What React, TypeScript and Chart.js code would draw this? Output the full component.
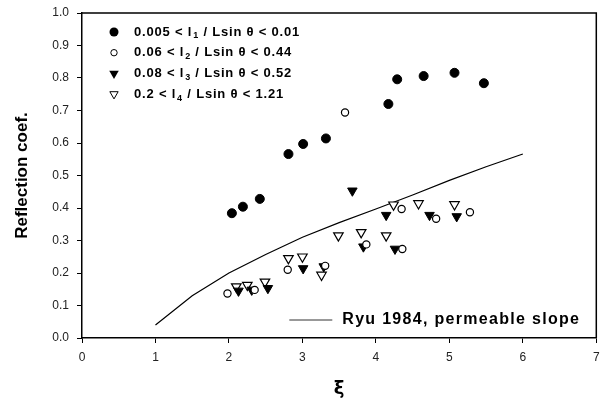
import React, { useEffect, useRef } from 'react';
import { Chart, registerables } from 'chart.js';

Chart.register(...registerables);

// ---- data ----
const xTickValues = [0, 1, 2, 3, 4, 5, 6, 7];
const yTickValues = [0, 0.1, 0.2, 0.3, 0.4, 0.5, 0.6, 0.7, 0.8, 0.9, 1.0];

const s1X = [2.04, 2.19, 2.42, 2.81, 3.01, 3.32, 4.17, 4.29, 4.65, 5.07, 5.47];
const s1Y = [0.384, 0.404, 0.428, 0.566, 0.597, 0.614, 0.72, 0.796, 0.806, 0.816, 0.784];

const s2X = [1.98, 2.35, 2.8, 3.31, 3.58, 3.87, 4.36, 4.35, 4.82, 5.28];
const s2Y = [0.137, 0.148, 0.21, 0.222, 0.694, 0.288, 0.274, 0.397, 0.367, 0.387];

const s3X = [2.13, 2.31, 2.53, 3.01, 3.29, 3.68, 3.83, 4.14, 4.26, 4.73, 5.1];
const s3Y = [0.145, 0.148, 0.153, 0.214, 0.22, 0.453, 0.281, 0.378, 0.274, 0.378, 0.374];

const s4X = [2.1, 2.25, 2.49, 2.81, 3.0, 3.26, 3.49, 3.8, 4.14, 4.24, 4.58, 5.07];
const s4Y = [0.158, 0.163, 0.173, 0.245, 0.25, 0.194, 0.315, 0.325, 0.315, 0.41, 0.414, 0.411];

const ryuX = [1, 1.5, 2, 2.5, 3, 3.5, 4, 4.5, 5, 5.5, 6];
const ryuY = [0.04, 0.13, 0.2, 0.257, 0.31, 0.355, 0.397, 0.44, 0.485, 0.527, 0.566];

const legendPre = ['0.005 < l', '0.06 < l', '0.08 < l', '0.2 < l'];
const legendSub = ['1', '2', '3', '4'];
const legendPost = [' / Lsin θ < 0.01', ' / Lsin θ < 0.44', ' / Lsin θ < 0.52', ' / Lsin θ < 1.21'];
const ryuLabel = 'Ryu 1984, permeable slope';
const xTitle = 'ξ';
const yTitle = 'Reflection coef.';

const FONT = '"Liberation Sans", Arial, sans-serif';

function toPoints(xs: number[], ys: number[]) {
  return xs.map((x, i) => ({ x, y: ys[i] }));
}

function drawMarker(ctx: CanvasRenderingContext2D, kind: number, x: number, y: number) {
  ctx.save();
  ctx.lineWidth = 1;
  ctx.strokeStyle = '#000';
  ctx.fillStyle = '#000';
  ctx.beginPath();
  if (kind === 0 || kind === 1) {
    const r = kind === 0 ? 4.5 : 3.2;
    ctx.arc(x, y, r, 0, Math.PI * 2);
  } else {
    const r = kind === 2 ? 5.5 : 4.8;
    const h = r * 1.5;
    const w = r * Math.sqrt(3);
    ctx.moveTo(x - w / 2, y - h / 3);
    ctx.lineTo(x + w / 2, y - h / 3);
    ctx.lineTo(x, y + (2 * h) / 3);
    ctx.closePath();
  }
  if (kind === 0 || kind === 2) ctx.fill();
  else {
    ctx.fillStyle = '#fff';
    ctx.fill();
    ctx.stroke();
  }
  ctx.restore();
}

const overlayPlugin = {
  id: 'overlay',
  afterDraw(chart: any) {
    const { ctx, chartArea } = chart;
    const { left, top, right, bottom } = chartArea;
    ctx.save();
    // frame
    ctx.strokeStyle = '#000';
    ctx.lineWidth = 1.5;
    ctx.beginPath();
    ctx.moveTo(left, top);
    ctx.lineTo(right, top);
    ctx.lineTo(right, bottom);
    ctx.stroke();

    // top-left legend
    ctx.fillStyle = '#000';
    ctx.textBaseline = 'middle';
    (ctx as any).letterSpacing = '0.8px';
    for (let i = 0; i < legendPre.length; i++) {
      const y = top + 19 + i * 20.7;
      drawMarker(ctx, i, left + 32, y);
      let tx = left + 52;
      ctx.font = `bold 13px ${FONT}`;
      ctx.fillText(legendPre[i], tx, y);
      tx += ctx.measureText(legendPre[i]).width + 1;
      ctx.font = `bold 9px ${FONT}`;
      ctx.fillText(legendSub[i], tx, y + 4);
      tx += ctx.measureText(legendSub[i]).width;
      ctx.font = `bold 13px ${FONT}`;
      ctx.fillText(legendPost[i], tx, y);
    }

    // bottom-right legend (line)
    const ly = bottom - 18;
    ctx.strokeStyle = '#333';
    ctx.lineWidth = 1;
    ctx.beginPath();
    ctx.moveTo(right - 307, ly);
    ctx.lineTo(right - 264, ly);
    ctx.stroke();
    (ctx as any).letterSpacing = '1.3px';
    ctx.font = `bold 16px ${FONT}`;
    ctx.fillText(ryuLabel, right - 254, ly);
    ctx.restore();
  },
};

export default function App() {
  const canvasRef = useRef<HTMLCanvasElement | null>(null);

  useEffect(() => {
    document.body.style.margin = '0';
    const canvas = canvasRef.current;
    if (!canvas) return;

    const chart = new Chart(canvas, {
      type: 'scatter',
      data: {
        datasets: [
          {
            label: legendPre[0] + legendSub[0] + legendPost[0],
            data: toPoints(s1X, s1Y),
            pointStyle: 'circle',
            pointRadius: 4.5,
            backgroundColor: '#000',
            borderColor: '#000',
            borderWidth: 1,
          },
          {
            label: legendPre[1] + legendSub[1] + legendPost[1],
            data: toPoints(s2X, s2Y),
            pointStyle: 'circle',
            pointRadius: 3.6,
            backgroundColor: '#fff',
            borderColor: '#000',
            borderWidth: 1.2,
          },
          {
            label: legendPre[2] + legendSub[2] + legendPost[2],
            data: toPoints(s3X, s3Y),
            pointStyle: 'triangle',
            rotation: 180,
            pointRadius: 5.5,
            backgroundColor: '#000',
            borderColor: '#000',
            borderWidth: 1,
          },
          {
            label: legendPre[3] + legendSub[3] + legendPost[3],
            data: toPoints(s4X, s4Y),
            pointStyle: 'triangle',
            rotation: 180,
            pointRadius: 5.5,
            backgroundColor: '#fff',
            borderColor: '#000',
            borderWidth: 1.2,
          },
          {
            label: ryuLabel,
            data: toPoints(ryuX, ryuY),
            showLine: true,
            pointRadius: 0,
            borderColor: '#000',
            borderWidth: 1.2,
            backgroundColor: '#000',
            order: 10,
          } as any,
        ],
      },
      options: {
        animation: false,
        responsive: true,
        maintainAspectRatio: false,
        layout: { padding: { top: 13, right: 6, left: 0, bottom: 0 } },
        plugins: {
          legend: { display: false },
          tooltip: { enabled: false },
        },
        scales: {
          x: {
            type: 'linear',
            min: 0,
            max: 7,
            afterBuildTicks: (scale: any) => {
              scale.ticks = xTickValues.map((v) => ({ value: v }));
            },
            afterFit: (scale: any) => {
              scale.height = 65;
              scale.paddingLeft = 0;
              scale.paddingRight = 0;
            },
            ticks: {
              color: '#222',
              font: { family: FONT, size: 12 },
              padding: 7,
              maxRotation: 0,
              callback: (v: any) => String(v),
            },
            grid: {
              drawOnChartArea: false,
              drawTicks: true,
              tickLength: 5,
              color: '#000',
            },
            border: { display: true, color: '#000', width: 1.5 },
            title: {
              display: true,
              text: xTitle,
              color: '#000',
              font: { family: '"DejaVu Sans", sans-serif', size: 18, weight: 'bold' },
              padding: { top: 0, bottom: 3 },
            },
          },
          y: {
            type: 'linear',
            min: 0,
            max: 1,
            afterBuildTicks: (scale: any) => {
              scale.ticks = yTickValues.map((v) => ({ value: v }));
            },
            afterFit: (scale: any) => {
              scale.width = 82;
              scale.paddingTop = 0;
              scale.paddingBottom = 0;
            },
            ticks: {
              color: '#222',
              font: { family: FONT, size: 12 },
              padding: 8,
              callback: (v: any) => Number(v).toFixed(1),
            },
            grid: {
              drawOnChartArea: false,
              drawTicks: true,
              tickLength: 5,
              color: '#000',
            },
            border: { display: true, color: '#000', width: 1.5 },
            title: {
              display: true,
              text: yTitle,
              color: '#000',
              font: { family: FONT, size: 17, weight: 'bold' },
              padding: { top: 12, bottom: 0 },
            },
          },
        },
      },
      plugins: [overlayPlugin],
    });

    return () => chart.destroy();
  }, []);

  return (
    <div style={{ position: 'fixed', left: 0, top: 0, width: 603, height: 403, background: '#fff' }}>
      <canvas ref={canvasRef} />
    </div>
  );
}
